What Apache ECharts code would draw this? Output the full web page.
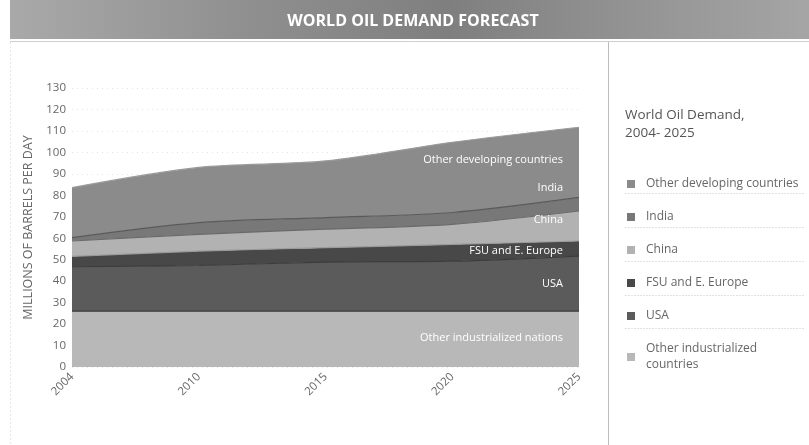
<!DOCTYPE html>
<html>
<head>
<meta charset="utf-8">
<script src="https://cdn.jsdelivr.net/npm/echarts@6/dist/echarts.min.js"></script>
<style>
html,body{margin:0;padding:0;background:#fff;}
#c{width:809px;height:445px;}
</style>
</head>
<body>
<div id="c"></div>
<script>
var years = ['2004', '2010', '2015', '2020', '2025'];
var otherIndustrialized = [26, 26, 26, 26, 26];
var usa = [20.7, 21.3, 22.9, 23.3, 25.7];
var fsu = [4.8, 6.7, 6.7, 7.8, 7.0];
var china = [7.2, 7.8, 8.6, 9.4, 14.0];
var india = [1.6, 5.5, 5.4, 5.5, 6.3];
var otherDeveloping = [23.3, 25.7, 26.4, 32.7, 32.7];
var yTicks = [0, 130, 10];
var legendNames = ['Other developing countries', 'India', 'China', 'FSU and E. Europe', 'USA', 'Other industrialized countries'];
var areaLabels = ['Other industrialized nations', 'USA', 'FSU and E. Europe', 'China', 'India', 'Other developing countries'];
var areaLabelValues = [13.6, 38.9, 54.3, 68.4, 83.3, 96.4];

var font = '"Open Sans", "Noto Sans", sans-serif';
var chart = echarts.init(document.getElementById('c'));

function mkSeries(name, data, color, lineColor) {
  return {
    name: name, type: 'line', stack: 'total', data: data, smooth: 0.3,
    symbol: 'none', color: color,
    lineStyle: { color: lineColor, width: 1.2 },
    areaStyle: { color: color, opacity: 1 },
    emphasis: { disabled: true }
  };
}

var series = [
  mkSeries('Other industrialized countries', otherIndustrialized, '#b8b8b8', '#3a3a3a'),
  mkSeries('USA', usa, '#5b5b5b', '#3c3c3c'),
  mkSeries('FSU and E. Europe', fsu, '#484848', '#9a9a9a'),
  mkSeries('China', china, '#b2b2b2', '#6a6a6a'),
  mkSeries('India', india, '#787878', '#5a5a5a'),
  mkSeries('Other developing countries', otherDeveloping, '#8b8b8b', '#9a9a9a')
];

var baseGraphic = [
  { type: 'rect', shape: { x: 10, y: 0, width: 799, height: 39 },
    style: { fill: new echarts.graphic.LinearGradient(0, 0, 1, 0, [
      { offset: 0, color: '#a9a9a9' }, { offset: 0.3, color: '#8f8f8f' },
      { offset: 0.55, color: '#7f7f7f' }, { offset: 0.8, color: '#959595' }, { offset: 1, color: '#a5a5a5' }]) } },
  { type: 'text', x: 413, y: 21, style: { text: 'WORLD OIL DEMAND FORECAST', fill: '#ffffff',
    font: 'bold 16px ' + font, textAlign: 'center', textVerticalAlign: 'middle' } },
  { type: 'line', shape: { x1: 10, y1: 41.5, x2: 809, y2: 41.5 }, style: { stroke: '#cfcfcf', lineWidth: 1 } },
  { type: 'line', shape: { x1: 10.5, y1: 42, x2: 10.5, y2: 445 }, style: { stroke: '#e6e6e6', lineWidth: 1, lineDash: [2, 2] } },
  { type: 'line', shape: { x1: 608.5, y1: 42, x2: 608.5, y2: 445 }, style: { stroke: '#bdbdbd', lineWidth: 1 } },
  { type: 'text', x: 625, y: 115, style: { text: 'World Oil Demand,', fill: '#555555',
    font: '13.5px ' + font, textVerticalAlign: 'middle' } },
  { type: 'text', x: 625, y: 133, style: { text: '2004- 2025', fill: '#555555',
    font: '13.5px ' + font, textVerticalAlign: 'middle' } }
];
[193, 227, 261, 295, 328].forEach(function (y) {
  baseGraphic.push({ type: 'line', shape: { x1: 625, y1: y + 0.5, x2: 805, y2: y + 0.5 },
    style: { stroke: '#e2e2e2', lineWidth: 1, lineDash: [2, 1] } });
});

chart.setOption({
  animation: false,
  backgroundColor: '#ffffff',
  grid: { left: 72, right: 230, top: 88, bottom: 78 },
  legend: {
    data: legendNames, orient: 'vertical', left: 622, top: 171,
    itemWidth: 8, itemHeight: 8, itemGap: 17, icon: 'rect',
    selectedMode: false,
    textStyle: { color: '#666666', fontSize: 12, fontFamily: font, padding: [0, 0, 0, 6], lineHeight: 16 },
    formatter: function (n) { return n === 'Other industrialized countries' ? 'Other industrialized\ncountries' : n; }
  },
  xAxis: {
    type: 'category', data: years, boundaryGap: false,
    axisLine: { show: false }, axisTick: { show: false },
    axisLabel: { rotate: 45, color: '#666666', fontSize: 11.5, fontFamily: font, margin: 8 },
    splitLine: { show: false }
  },
  yAxis: {
    type: 'value', min: yTicks[0], max: yTicks[1], interval: yTicks[2],
    name: 'MILLIONS OF BARRELS PER DAY', nameLocation: 'middle', nameGap: 30, nameRotate: 90,
    nameTextStyle: { color: '#666666', fontSize: 12.5, fontFamily: font },
    axisLine: { show: false }, axisTick: { show: false },
    axisLabel: { color: '#666666', fontSize: 11.5, fontFamily: font, margin: 6 },
    splitLine: { show: true, lineStyle: { color: '#e4e4e4', type: [1, 4], width: 1 } }
  },
  series: series,
  graphic: baseGraphic
});

var g = baseGraphic.slice();
var lastCat = years[years.length - 1];
areaLabels.forEach(function (t, i) {
  var p = chart.convertToPixel({ gridIndex: 0 }, [lastCat, areaLabelValues[i]]);
  g.push({ type: 'text', x: p[0] - 16, y: p[1], z: 100,
    style: { text: t, fill: '#ffffff', font: '11px ' + font, textAlign: 'right', textVerticalAlign: 'middle' } });
});
chart.setOption({ graphic: g }, { replaceMerge: ['graphic'] });
</script>
</body>
</html>
